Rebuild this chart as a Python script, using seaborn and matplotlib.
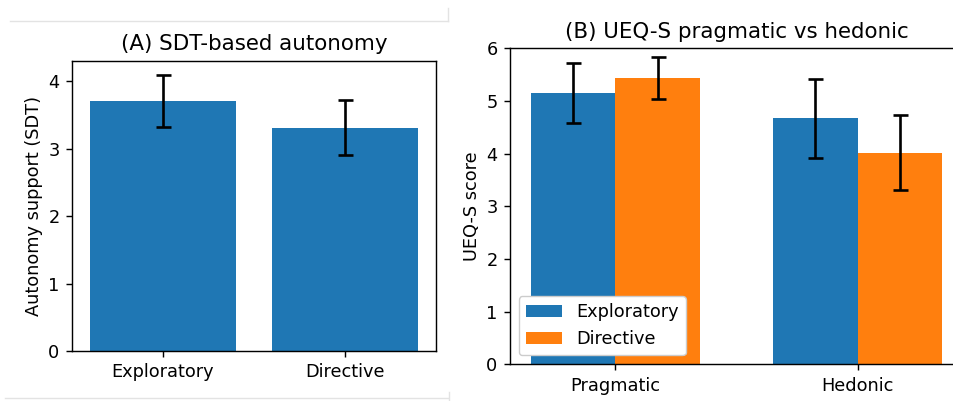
import pandas as pd
import numpy as np
import matplotlib
matplotlib.use("Agg")
import matplotlib.pyplot as plt
import seaborn as sns
from matplotlib.lines import Line2D

# values
conditions = ["Exploratory", "Directive"]
sdt_mean = [3.71, 3.31]
sdt_err = [0.385, 0.41]

measures = ["Pragmatic", "Hedonic"]
ueq_exploratory = [5.16, 4.67]
ueq_exploratory_err = [0.57, 0.755]
ueq_directive = [5.43, 4.02]
ueq_directive_err = [0.40, 0.715]

blue = "#1f77b4"
orange = "#ff7f0e"

# original looks rendered at ~128 dpi, scale text/lines for a 100 dpi canvas
s = 1.28
plt.rcParams.update({
    "font.family": "DejaVu Sans",
    "font.size": 10 * s,
    "axes.linewidth": 0.8 * s,
    "xtick.major.size": 3.5 * s,
    "ytick.major.size": 3.5 * s,
    "xtick.major.width": 0.8 * s,
    "ytick.major.width": 0.8 * s,
    "xtick.major.pad": 3.5 * s,
    "ytick.major.pad": 3.5 * s,
})

fig = plt.figure(figsize=(9.54, 4.01), dpi=100)
W, H = 954, 401
ax1 = fig.add_axes([72 / W, (H - 351) / H, 364 / W, 290 / H])
ax2 = fig.add_axes([510 / W, (H - 364.3) / H, 453 / W, 316 / H])

# (A) SDT autonomy
sdt = pd.DataFrame({"condition": conditions, "score": sdt_mean})
sns.barplot(data=sdt, x="condition", y="score", color=blue, saturation=1,
            errorbar=None, width=0.8, ax=ax1)
for patch, e in zip(ax1.patches, sdt_err):
    ax1.errorbar(patch.get_x() + patch.get_width() / 2, patch.get_height(), yerr=e,
                 fmt="none", ecolor="black", elinewidth=1.9, capsize=5.4, capthick=1.9)
ax1.set_ylim(0, 4.30)
ax1.set_xlim(-0.5, 1.5)
ax1.set_title("(A) SDT-based autonomy", fontsize=12 * s, pad=6 * s)
ax1.set_xlabel("")
ax1.set_ylabel("Autonomy support (SDT)")

# (B) UEQ-S
ueq = pd.DataFrame({
    "measure": measures * 2,
    "condition": ["Exploratory"] * 2 + ["Directive"] * 2,
    "score": ueq_exploratory + ueq_directive,
})
sns.barplot(data=ueq, x="measure", y="score", hue="condition", hue_order=conditions,
            palette=[blue, orange], saturation=1, errorbar=None, width=0.7, gap=0, ax=ax2)
errs = [ueq_exploratory_err, ueq_directive_err]
for cont, err in zip(ax2.containers, errs):
    for patch, e in zip(cont.patches, err):
        ax2.errorbar(patch.get_x() + patch.get_width() / 2, patch.get_height(), yerr=e,
                     fmt="none", ecolor="black", elinewidth=1.9, capsize=5.4, capthick=1.9)
ax2.set_ylim(0, 6)
ax2.set_xlim(-0.435, 1.435)
ax2.set_title("(B) UEQ-S pragmatic vs hedonic", fontsize=12 * s, pad=6 * s)
ax2.set_xlabel("")
ax2.set_ylabel("UEQ-S score")
sns.move_legend(ax2, "lower left", title=None, fontsize=10 * s, framealpha=1)

# faint frame lines from the original screenshot
grey = "#e3e3e3"
fig.add_artist(Line2D([10 / W, 448 / W], [1 - 20.5 / H, 1 - 20.5 / H], color=grey, lw=1))
fig.add_artist(Line2D([448 / W, 448 / W], [1 - 8 / H, 1 - 20.5 / H], color=grey, lw=1))
fig.add_artist(Line2D([5 / W, 448 / W], [1 - 398 / H, 1 - 398 / H], color=grey, lw=1))
fig.add_artist(Line2D([449 / W, 449 / W], [1 - 392 / H, 0], color=grey, lw=1))

fig.savefig("out.png", dpi=100)
